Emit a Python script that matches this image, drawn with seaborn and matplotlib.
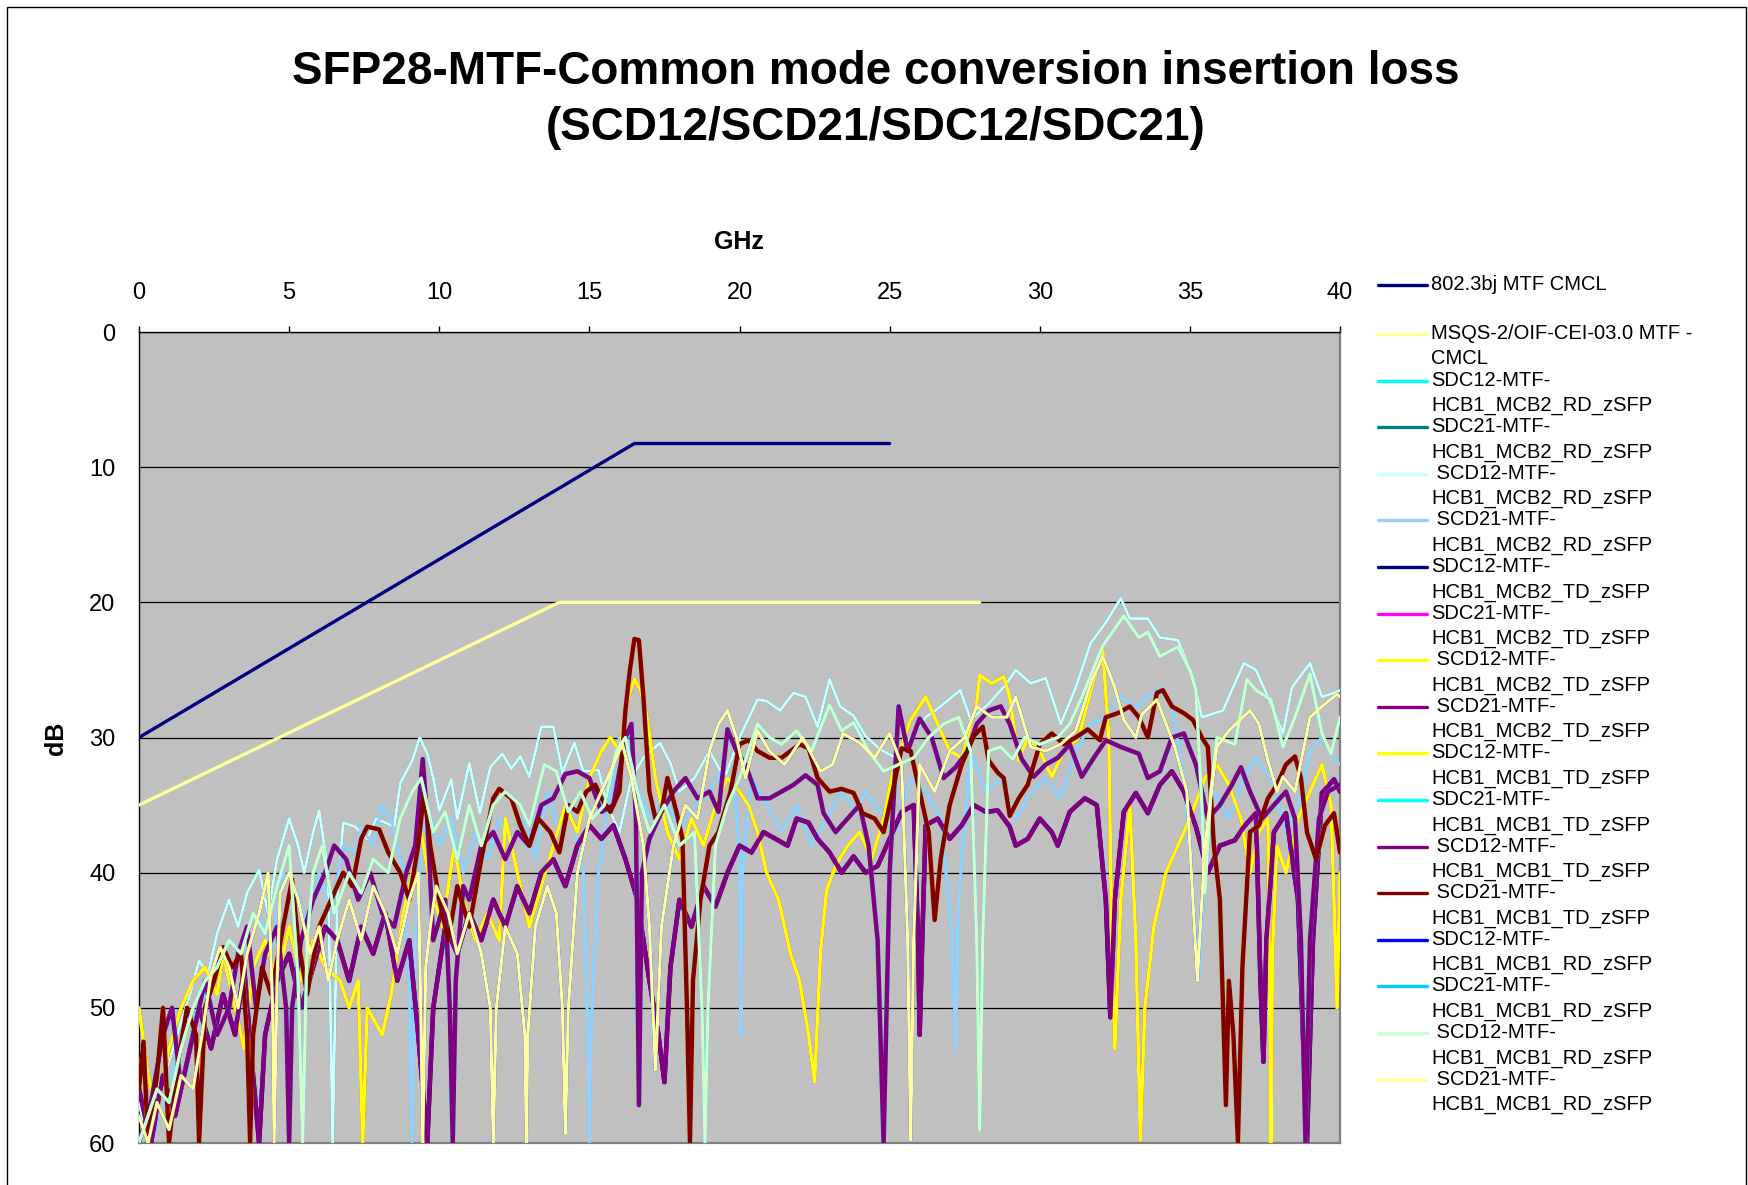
import matplotlib
matplotlib.use("Agg")
import matplotlib.pyplot as plt
from matplotlib.lines import Line2D
from matplotlib.patches import Rectangle
import seaborn as sns


# mask lines (GHz, dB)
mask_802_3bj = [(0, 30), (16.5, 8.25), (25, 8.25)]
mask_oif = [(0, 35), (14, 20), (28, 20)]

rd_mcb2_scd12 = [(0.0,57),(0.3,60),(0.6,56),(1.0,54),(1.35,51.4),(1.7,49),(2.0,46.5),(2.3,47.5),(2.6,44.5),(3.0,42),(3.3,44),(3.6,41.5),(4.0,39.8),(4.3,43),(4.6,39),(5.0,36),(5.3,38),(5.5,40),(5.8,37),(6.0,35.4),(6.3,40),(6.45,60),(6.6,42),(6.8,36.3),(7.2,36.6),(7.6,37.5),(7.9,36),(8.5,36.6),(8.7,33.4),(9.1,31.7),(9.35,30),(9.6,31.2),(9.8,33),(10.0,35.4),(10.4,33.1),(10.6,36),(11.0,31.9),(11.35,35.6),(11.7,32.2),(12.1,31.2),(12.4,32.3),(12.7,31.4),(13.0,32.9),(13.4,29.2),(13.8,29.2),(14.1,32.6),(14.5,30.4),(14.8,32.5),(15.3,32.4),(15.6,35),(16.0,37),(16.4,33),(16.8,31.5),(17.35,30.4),(17.7,31.9),(18.0,34),(18.5,33),(19.0,31),(19.5,33),(20.0,30),(20.6,27.2),(20.9,27.3),(21.35,28),(21.8,26.7),(22.2,27),(22.6,29.2),(23.0,25.7),(23.35,27.7),(23.8,28.4),(24.2,29.9),(24.7,30.9),(25.2,31.5),(25.7,30),(26.2,28.5),(26.7,27.7),(27.35,26.5),(27.7,28.7),(28.3,27.5),(28.9,26),(29.2,25),(29.7,26),(30.2,25.6),(30.7,29),(31.2,26.3),(31.7,23),(32.2,21.5),(32.7,19.7),(33.0,21.2),(33.6,21.2),(34.0,22.6),(34.6,22.8),(35.1,25.5),(35.4,28.5),(36.1,28),(36.8,24.5),(37.2,25),(37.6,27),(38.1,29.7),(38.4,26.3),(39.0,24.5),(39.4,27),(39.8,26.7),(40.0,26.5)]
rd_mcb2_scd21 = [(0.0,58),(0.4,60),(0.8,57),(1.2,54),(1.6,51),(2.0,50),(2.4,48),(2.8,46),(3.2,47),(3.6,44),(4.0,43),(4.4,46),(4.8,40),(5.2,41),(5.6,44),(6.0,40),(6.4,43),(6.8,38),(7.2,38.5),(7.4,36.6),(7.8,38),(8.1,35),(8.4,36),(8.8,40),(9.0,48),(9.1,60),(9.2,45),(9.4,38),(9.6,35),(10.0,38),(10.4,36),(10.8,40),(11.2,37),(11.6,39),(12.0,36),(12.4,38),(12.8,36),(13.2,39),(13.6,34),(14.0,37),(14.4,35),(14.8,40),(14.95,52),(15.0,60),(15.05,52),(15.3,40),(15.7,34),(16.0,30),(16.2,29.5),(16.5,33),(17.0,36),(17.5,34),(18.0,37),(18.5,35),(19.0,34),(19.3,32.8),(19.8,33),(20.0,38),(20.05,52),(20.1,40),(20.4,33),(20.9,35),(21.4,37),(21.9,35),(22.4,38),(22.9,36),(23.4,34),(23.9,35.5),(24.2,34),(24.7,35.5),(25.2,37),(25.7,33),(26.2,34),(26.7,36),(27.1,45),(27.2,53),(27.3,42),(27.7,31),(28.2,34),(28.7,33),(29.2,36),(29.7,34),(30.2,33),(30.7,34.5),(31.2,31),(31.7,29),(32.2,28.5),(32.7,27),(33.2,27.8),(33.6,27),(34.0,26.3),(34.4,27.5),(34.8,33),(35.1,41),(35.3,48),(35.5,40),(35.8,34),(36.3,36),(36.8,33),(37.2,31.5),(37.7,33),(38.2,37),(38.6,35),(39.0,31),(39.4,30),(39.8,31.5),(40.0,32)]
td_mcb2_scd12 = [(0.0,50),(0.3,55),(0.6,58),(1.0,53),(1.4,50),(1.8,48),(2.2,47),(2.6,49),(2.8,46),(3.2,50),(3.5,53),(3.8,47),(4.2,45),(4.6,48),(5.0,44),(5.4,48),(5.8,45),(6.2,47),(6.7,48),(7.0,50),(7.3,48),(7.45,60),(7.6,50),(8.1,52),(8.4,49),(8.8,43),(9.1,40),(9.4,37),(9.7,41),(10.1,44),(10.5,38),(10.8,42),(11.2,45),(11.6,43),(12.0,45),(12.2,36),(12.6,40),(13.0,44),(13.4,41),(13.8,38),(14.2,35),(14.6,37),(15.0,33),(15.4,31),(15.7,30),(16.0,31),(16.3,27),(16.5,25.7),(16.7,26.5),(16.9,28.2),(17.2,33),(17.6,37),(18.0,39),(18.4,36),(18.8,38),(19.2,35),(19.6,33),(20.0,34),(20.3,35),(20.6,37),(20.9,40),(21.3,42),(21.7,46),(22.0,48),(22.3,52),(22.5,55.5),(22.7,45.8),(22.9,41.3),(23.2,39.5),(23.6,38),(24.0,37),(24.4,39),(24.8,36),(25.1,32.6),(25.7,28.7),(26.2,27),(26.5,28.5),(27.0,31),(27.4,31.5),(27.9,27.5),(28.0,25.4),(28.4,26),(28.8,25.5),(29.0,27),(29.3,31.7),(29.6,30),(30.0,31),(30.4,32.9),(30.8,31),(31.3,30),(31.7,26.5),(31.9,25),(32.1,23.5),(32.3,30),(32.4,45),(32.5,53),(32.7,42),(33.0,35),(33.2,45),(33.35,59.8),(33.5,50),(33.8,44),(34.2,40),(34.6,38),(35.0,36),(35.5,33),(35.9,32),(36.3,33.5),(36.7,36),(37.0,40),(37.3,37),(37.6,36),(37.65,48),(37.7,60),(37.75,46),(37.9,38),(38.2,40),(38.6,36),(39.0,34),(39.4,32),(39.7,35),(39.8,42),(39.9,50),(40.0,40)]
td_mcb2_scd21 = [(0.0,56),(0.4,60),(0.8,55),(1.2,58),(1.6,54),(2.0,50),(2.4,53),(2.8,49),(3.2,52),(3.5,47),(3.8,55),(4.0,60),(4.2,52),(4.6,48),(5.0,46),(5.4,50),(5.8,47),(6.2,44),(6.6,45),(7.0,48),(7.4,44),(7.8,46),(8.2,43),(8.6,48),(9.0,45),(9.3,52),(9.6,60),(9.8,50),(10.2,44),(10.6,46),(11.0,43),(11.4,45),(11.8,42),(12.2,44),(12.6,41),(13.0,43),(13.4,40),(13.8,39),(14.2,41),(14.6,38),(15.0,36.5),(15.4,37.5),(15.8,36.5),(16.2,39),(16.6,42),(17.0,48),(17.3,52),(17.5,55.5),(17.7,47),(18.0,42),(18.4,44),(18.8,41),(19.2,42.5),(19.6,40),(20.0,38),(20.4,38.5),(20.8,37),(21.2,37.5),(21.6,38),(21.9,36),(22.3,36.3),(22.6,37.5),(23.0,38.5),(23.4,40),(23.8,38.8),(24.2,40),(24.6,39.5),(25.0,37.5),(25.4,35.5),(25.8,35),(25.95,45),(26.0,52),(26.1,44),(26.2,36.5),(26.6,36),(27.0,37.5),(27.4,36.5),(27.8,35),(28.2,35.5),(28.6,35.4),(29.0,36.6),(29.2,38),(29.6,37.5),(30.0,36),(30.4,37),(30.6,38),(31.0,35.5),(31.5,34.5),(31.9,35),(32.2,42),(32.35,50.7),(32.5,42),(32.8,35.5),(33.2,34.1),(33.6,35.6),(34.0,33.5),(34.4,32.5),(34.8,34),(35.2,36.6),(35.6,40),(36.0,38),(36.5,37.6),(36.8,36.6),(37.2,35.6),(37.35,48),(37.45,54),(37.55,45),(37.8,37),(38.2,35.6),(38.6,42),(38.9,60),(39.1,45),(39.4,34.1),(39.8,33.1),(40.0,34)]
td_mcb1_scd12 = [(0.0,60),(0.4,57),(0.8,52),(1.1,50),(1.4,56),(1.8,52),(2.2,48),(2.6,52),(3.0,50),(3.3,46),(3.6,44),(3.9,50),(4.2,46),(4.6,44),(4.9,50),(5.0,60),(5.1,50),(5.4,45),(5.8,42),(6.2,40),(6.5,38),(6.9,39),(7.3,42),(7.7,40),(8.1,43),(8.5,44),(8.9,40),(9.2,38),(9.45,31.6),(9.6,36),(9.8,45),(10.2,42),(10.35,50),(10.45,60),(10.55,48),(10.8,41),(11.0,42),(11.4,38),(11.8,37),(12.2,39),(12.6,37),(13.0,38),(13.4,35),(13.8,34.5),(14.2,32.7),(14.6,32.5),(15.0,33),(15.4,35.5),(15.8,35),(16.2,30),(16.4,29),(16.55,36),(16.65,57.2),(16.75,40),(17.0,37.5),(17.4,35.5),(17.8,34),(18.2,33),(18.6,34.5),(19.0,34),(19.3,35.5),(19.6,29.4),(19.9,31),(20.2,32),(20.6,34.5),(21.0,34.5),(21.4,34),(21.8,33.5),(22.2,32.8),(22.6,33.5),(22.8,35.6),(23.2,37),(23.6,36),(24.0,35),(24.3,38),(24.6,45),(24.8,60),(25.0,40),(25.3,27.7),(25.6,31),(26.0,28.6),(26.4,30),(26.8,33),(27.2,32.2),(27.6,31),(27.9,29),(28.3,28),(28.7,27.7),(29.0,29),(29.4,31.6),(29.8,32.9),(30.2,32),(30.6,31.5),(31.0,30.5),(31.4,32.9),(31.8,31.5),(32.2,30.2),(32.7,30.7),(33.3,31.2),(33.6,33),(34.0,32.5),(34.4,30),(34.8,29.7),(35.2,32),(35.6,36),(36.0,35),(36.4,33.5),(36.7,32.2),(37.0,34),(37.4,36),(37.8,35),(38.2,34),(38.5,36),(38.7,45),(38.85,60),(39.0,45),(39.3,36),(39.6,34),(40.0,33.5)]
td_mcb1_scd21 = [(0.0,56),(0.15,52.5),(0.3,60),(0.6,55),(0.8,50),(1.0,60),(1.3,54),(1.6,50),(1.9,52),(2.0,60),(2.2,50),(2.5,48),(2.8,45.5),(3.1,47),(3.4,46),(3.6,52),(3.7,60),(3.8,52),(4.1,47),(4.4,49),(4.8,44),(5.1,40.5),(5.3,45),(5.6,49),(6.0,44),(6.4,42),(6.8,40),(7.1,41),(7.4,37.5),(7.6,36.6),(8.0,36.8),(8.3,38.5),(8.7,40),(9.0,42),(9.3,38),(9.5,34),(9.7,38),(10.0,42),(10.3,45),(10.6,41),(11.0,44),(11.4,39),(11.8,34.5),(12.0,33.8),(12.4,34.5),(12.7,36.5),(13.0,38),(13.3,36),(13.7,37),(14.0,38.5),(14.3,35),(14.6,35.5),(14.9,34),(15.2,33.5),(15.4,34.5),(15.7,35.5),(16.0,34),(16.2,28),(16.35,25),(16.5,22.7),(16.65,22.8),(16.8,27),(17.0,34),(17.2,36),(17.4,35.5),(17.6,33),(17.9,35.5),(18.1,37.5),(18.25,50),(18.35,60),(18.45,48),(18.7,42),(19.0,38),(19.3,37),(19.7,34),(20.0,30.5),(20.3,30.2),(20.6,31),(21.0,31.5),(21.4,31.5),(21.7,31),(22.0,30.5),(22.3,30.8),(22.6,33),(23.0,34),(23.4,33.8),(23.8,34.1),(24.1,35.6),(24.5,36),(24.8,37),(25.1,34),(25.4,30.8),(25.7,31),(26.0,34),(26.3,37),(26.5,43.5),(26.7,39),(27.0,35),(27.4,32),(27.8,29.9),(28.1,29.2),(28.3,31.7),(28.6,32.6),(28.8,33),(29.0,35.8),(29.3,34.5),(29.6,33.5),(30.0,30.5),(30.4,29.7),(30.8,30.5),(31.2,30),(31.6,29.4),(32.0,30.2),(32.2,28.5),(32.6,28.2),(33.0,27.7),(33.3,28.5),(33.6,30),(33.9,26.7),(34.1,26.5),(34.4,27.7),(34.8,28.2),(35.1,28.7),(35.4,30),(35.6,30.7),(35.8,38),(36.0,42),(36.2,57.2),(36.3,48),(36.45,52),(36.6,60),(36.75,47),(37.0,37),(37.3,36.5),(37.6,34.5),(37.9,33.5),(38.2,32),(38.5,31.4),(38.7,33),(38.9,37),(39.2,39),(39.5,36.5),(39.8,35.6),(40.0,38.5)]
rd_mcb1_scd12 = [(0.0,60),(0.3,58),(0.6,56),(1.0,57),(1.4,53),(1.8,50),(2.2,48),(2.6,47),(3.0,45),(3.4,46),(3.8,43),(4.2,44.5),(4.6,41),(5.0,38),(5.3,48),(5.45,60),(5.6,45),(5.8,40),(6.1,38),(6.5,43),(7.0,40),(7.4,41.5),(7.8,39),(8.3,40),(8.7,36),(9.1,34),(9.4,33),(9.8,37),(10.2,35.5),(10.6,39),(11.0,35),(11.4,38),(11.8,35),(12.2,34),(12.7,35),(13.0,36.5),(13.5,32),(13.9,32.5),(14.3,35.5),(14.7,34),(15.1,36),(15.5,35),(15.9,31),(16.2,30),(16.6,34),(17.0,37),(17.5,35),(18.0,38),(18.5,37),(18.75,50),(18.85,60),(18.95,50),(19.2,38),(19.6,35),(20.0,33),(20.6,29),(21.0,30),(21.4,30.5),(21.9,29.5),(22.4,31),(23.0,27.6),(23.4,29.5),(23.8,28.9),(24.3,31),(24.8,32.5),(25.3,32),(25.8,31.5),(26.3,30),(26.8,29),(27.3,28.5),(27.7,31),(27.9,45),(28.0,59),(28.1,45),(28.3,31),(28.7,30.7),(29.1,31.6),(29.5,30),(30.0,30.5),(30.6,30),(31.0,29),(31.5,26.5),(32.1,23.2),(32.8,21),(33.3,22.6),(33.6,22.2),(34.0,24),(34.6,23.3),(35.0,25),(35.2,26.5),(35.4,35),(35.5,41.5),(35.7,34),(35.9,30),(36.5,30.5),(36.9,25.7),(37.2,26.5),(37.7,27.2),(38.1,30.7),(38.5,28.5),(39.0,25.3),(39.4,29.7),(39.7,31.2),(40.0,28.5)]
rd_mcb1_scd21 = [(0.0,58),(0.3,60),(0.6,57),(1.0,59),(1.4,55),(1.8,56),(2.1,52),(2.4,47.5),(2.7,45.5),(3.0,47),(3.3,50),(3.6,46),(4.0,43),(4.3,40),(4.45,50),(4.5,60),(4.6,48),(4.7,41.5),(5.0,40),(5.3,42),(5.7,46),(6.0,44),(6.3,48),(6.6,45),(7.0,42),(7.4,45),(7.8,41),(8.2,43),(8.6,46),(9.0,42),(9.3,40),(9.4,52),(9.45,60),(9.55,47),(9.7,44),(9.9,41),(10.3,43),(10.6,46),(11.0,43),(11.4,46),(11.7,50),(11.8,60),(11.9,50),(12.2,44),(12.6,46),(12.85,52),(12.9,60),(12.95,52),(13.2,44),(13.6,41),(13.9,43),(14.1,50),(14.2,59.3),(14.3,50),(14.6,40),(15.0,36),(15.4,34),(15.8,32),(16.1,30.5),(16.4,33),(16.8,38),(17.0,44),(17.2,54.6),(17.4,44),(17.8,38),(18.2,35),(18.6,36),(19.0,31),(19.3,29),(19.6,28),(19.9,30),(20.2,33),(20.6,29.5),(21.0,31),(21.5,32),(22.1,30),(22.7,32.5),(23.1,32),(23.45,29.7),(24.0,30.4),(24.5,31.5),(25.0,29.7),(25.4,32),(25.6,45),(25.7,59.8),(25.8,45),(26.0,32),(26.5,34),(27.0,31),(27.5,30),(27.9,27.7),(28.4,28.5),(28.9,28.5),(29.2,27),(29.7,30.7),(30.2,31),(30.7,30.5),(31.2,29.5),(31.7,26),(32.1,24),(32.5,26.3),(32.8,28.7),(33.2,30),(33.4,28.3),(33.9,27.2),(34.5,30.7),(34.9,34),(35.15,44),(35.25,48),(35.5,38),(35.9,30.7),(36.3,29.5),(37.0,28),(37.3,29),(37.6,31.7),(37.9,34),(38.1,32.9),(38.5,34),(39.0,28.5),(39.4,27.7),(39.9,26.8),(40.0,27)]

series_labels = [
    "802.3bj MTF CMCL",
    "MSQS-2/OIF-CEI-03.0 MTF -\nCMCL",
    "SDC12-MTF-\nHCB1_MCB2_RD_zSFP",
    "SDC21-MTF-\nHCB1_MCB2_RD_zSFP",
    " SCD12-MTF-\nHCB1_MCB2_RD_zSFP",
    " SCD21-MTF-\nHCB1_MCB2_RD_zSFP",
    "SDC12-MTF-\nHCB1_MCB2_TD_zSFP",
    "SDC21-MTF-\nHCB1_MCB2_TD_zSFP",
    " SCD12-MTF-\nHCB1_MCB2_TD_zSFP",
    " SCD21-MTF-\nHCB1_MCB2_TD_zSFP",
    "SDC12-MTF-\nHCB1_MCB1_TD_zSFP",
    "SDC21-MTF-\nHCB1_MCB1_TD_zSFP",
    " SCD12-MTF-\nHCB1_MCB1_TD_zSFP",
    " SCD21-MTF-\nHCB1_MCB1_TD_zSFP",
    "SDC12-MTF-\nHCB1_MCB1_RD_zSFP",
    "SDC21-MTF-\nHCB1_MCB1_RD_zSFP",
    " SCD12-MTF-\nHCB1_MCB1_RD_zSFP",
    " SCD21-MTF-\nHCB1_MCB1_RD_zSFP",
]

series_colors = [
    "#000080", "#FFFF99", "#00FFFF", "#008080", "#CCFFFF", "#99CCFF",
    "#000080", "#FF00FF", "#FFFF00", "#800080", "#FFFF00", "#00FFFF",
    "#800080", "#800000", "#0000FF", "#00CCFF", "#CCFFCC", "#FFFF99",
]

# SDCxy equals SCDyx, so each pair is drawn from the same trace
series_data = [
    mask_802_3bj, mask_oif,
    rd_mcb2_scd21, rd_mcb2_scd12, rd_mcb2_scd12, rd_mcb2_scd21,
    td_mcb2_scd21, td_mcb2_scd12, td_mcb2_scd12, td_mcb2_scd21,
    td_mcb1_scd21, td_mcb1_scd12, td_mcb1_scd12, td_mcb1_scd21,
    rd_mcb1_scd21, rd_mcb1_scd12, rd_mcb1_scd12, rd_mcb1_scd21,
]

series_widths = [2.4, 2.4, 2.1, 2.1, 2.1, 2.1, 3.2, 2.5, 2.5, 3.2,
                 3.2, 3.2, 3.2, 3.2, 2.3, 2.3, 2.3, 2.3]

W, H = 1748, 1185

sns.set_style("white")
plt.rcParams["font.family"] = ["Liberation Sans", "DejaVu Sans"]
plt.rcParams["text.color"] = "black"
plt.rcParams["xtick.color"] = "black"
plt.rcParams["ytick.color"] = "black"

fig = plt.figure(figsize=(W / 100, H / 100), dpi=100)
ax = fig.add_axes([139 / W, 1 - 1143 / H, (1340 - 139) / W, (1143 - 332) / H])
ax.set_facecolor("#C0C0C0")

for i, (points, color, lw) in enumerate(zip(series_data, series_colors, series_widths)):
    ghz = [p[0] for p in points]
    db = [p[1] for p in points]
    sns.lineplot(x=ghz, y=db, ax=ax, color=color, linewidth=lw,
                 sort=False, estimator=None, legend=False, zorder=3 + i)

ax.set_xlim(0, 40)
ax.set_ylim(60, 0)
ax.set_xticks(range(0, 41, 5))
ax.set_yticks(range(0, 61, 10))
ax.xaxis.tick_top()
ax.tick_params(axis="x", labelsize=17, pad=16, length=4, width=1, color="black", direction="out")
ax.tick_params(axis="y", labelsize=17, pad=13, length=4, width=1, color="black", direction="out")
ax.yaxis.grid(True, color="black", linewidth=0.9)
ax.xaxis.grid(False)
ax.set_axisbelow(True)
ax.set_xlabel("")
ax.set_ylabel("")

for side in ["top", "left"]:
    ax.spines[side].set_color("black")
    ax.spines[side].set_linewidth(1.0)
for side in ["right", "bottom"]:
    ax.spines[side].set_color("#808080")
    ax.spines[side].set_linewidth(1.6)

fig.text(0.501, 1 - 100 / H,
         "SFP28-MTF-Common mode conversion insertion loss\n(SCD12/SCD21/SDC12/SDC21)",
         ha="center", va="center", fontsize=33, fontweight="bold", linespacing=1.33)
fig.text(739 / W, 1 - 242 / H, "GHz", ha="center", va="center",
         fontsize=18, fontweight="bold")
fig.text(56 / W, 1 - 738 / H, "dB", ha="center", va="center", rotation=90,
         fontsize=18, fontweight="bold")

# legend drawn by hand so the key sits on the first text line, as in the original
for i, (label, color) in enumerate(zip(series_labels, series_colors)):
    y_px = 285 if i == 0 else 334 + (i - 1) * 46.6
    y = 1 - y_px / H
    fig.add_artist(Line2D([1378 / W, 1427 / W], [y, y], color=color,
                          linewidth=2.4, transform=fig.transFigure))
    fig.text(1431 / W, 1 - (y_px - 10) / H, label, ha="left", va="top",
             fontsize=14.5, linespacing=1.42)

# chart area border
fig.add_artist(Rectangle((7 / W, -0.02), (1746 - 7) / W, 1 - 7 / H + 0.02,
                         fill=False, edgecolor="black", linewidth=1.0,
                         transform=fig.transFigure))

fig.savefig("out.png", dpi=100)
